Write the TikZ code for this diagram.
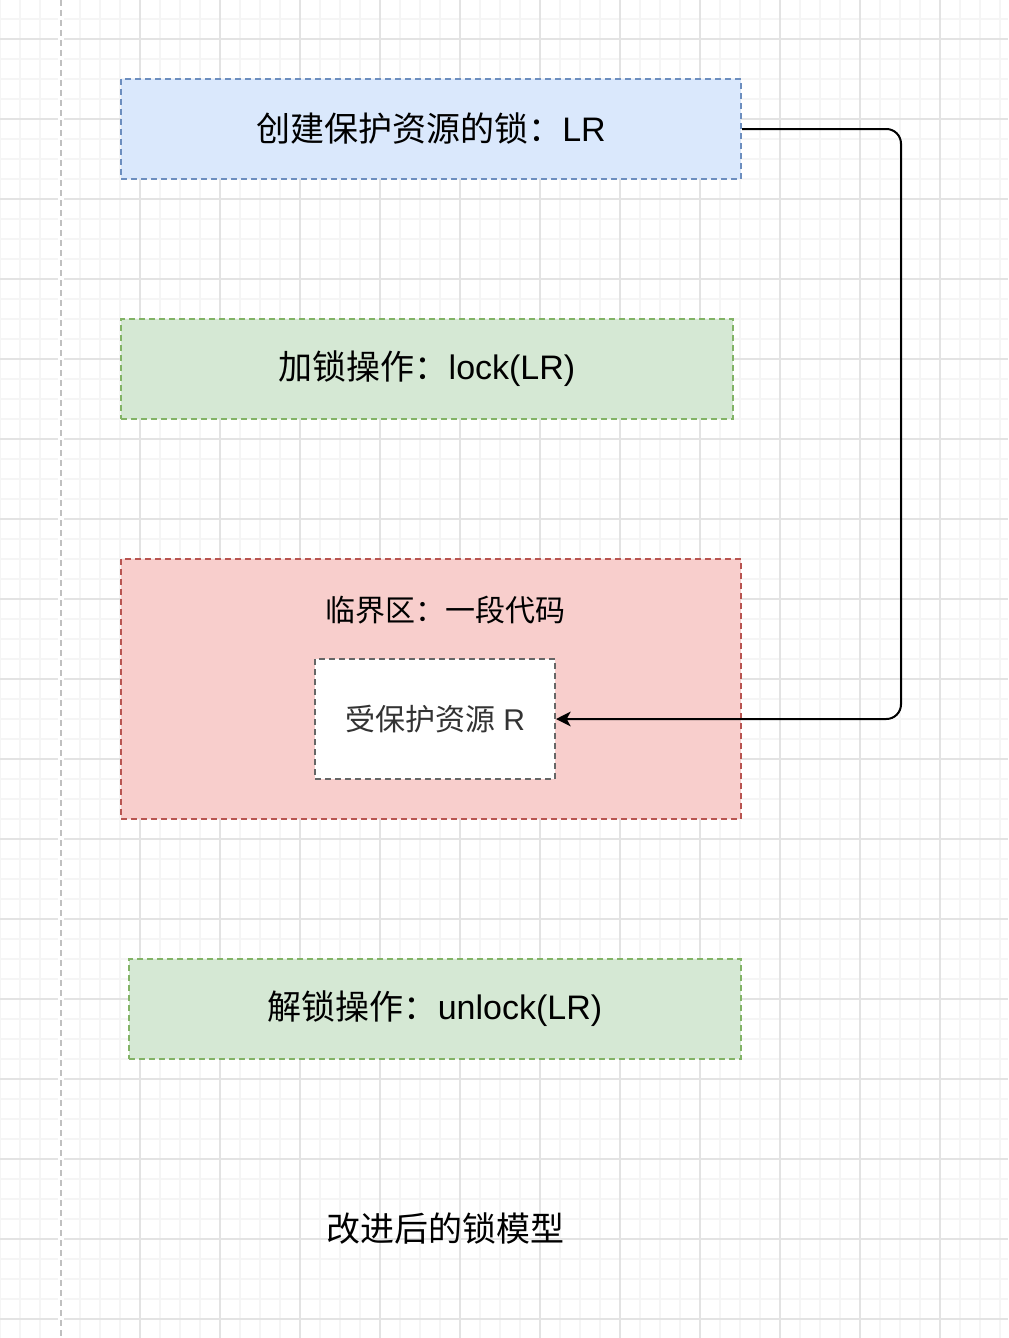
\documentclass[tikz,border=0pt]{standalone}
\usepackage{fontspec}
\setmainfont{Liberation Sans}
\newfontfamily\cjk{Noto Sans CJK SC}
\usetikzlibrary{arrows.meta}
\definecolor{gridminor}{HTML}{F5F5F5}
\definecolor{gridmajor}{HTML}{E3E3E3}
\definecolor{bluefill}{HTML}{DAE8FC}
\definecolor{blueline}{HTML}{6C8EBF}
\definecolor{greenfill}{HTML}{D5E8D4}
\definecolor{greenline}{HTML}{82B366}
\definecolor{redfill}{HTML}{F8CECC}
\definecolor{redline}{HTML}{B85450}
\definecolor{grayline}{HTML}{666666}
\definecolor{darktext}{HTML}{333333}
\definecolor{guide}{HTML}{C0C0C0}
\tikzset{
  box/.style={draw, line width=1.5pt, dash pattern=on 4.5pt off 3pt, inner sep=0pt, align=center},
  bigtext/.style={font=\fontsize{25.5pt}{30pt}\selectfont},
  midtext/.style={font=\fontsize{22.5pt}{27pt}\selectfont},
  arr/.style={line width=1.5pt, -{Stealth[length=11pt,width=11pt,inset=3pt]}, rounded corners=11pt}
}
\begin{document}
\begin{tikzpicture}[x=0.75pt,y=-0.75pt]
\useasboundingbox (0,0) rectangle (1008,1338);
\fill[white] (0,0) rectangle (1008,1338);
% grid
\foreach \x in {0,20,...,1000} \draw[gridminor,line width=1.5pt] (\x,0) -- (\x,1338);
\foreach \y in {19,39,...,1339} \draw[gridminor,line width=1.5pt] (0,\y) -- (1008,\y);
\foreach \x in {60,140,...,940} \draw[gridmajor,line width=1.5pt] (\x,0) -- (\x,1338);
\foreach \y in {39,119,...,1319} \draw[gridmajor,line width=1.5pt] (0,\y) -- (1008,\y);
\fill[white] (58,0) rectangle (64,1338);
\draw[guide,line width=1.5pt,dash pattern=on 4.5pt off 3pt] (61,0) -- (61,1338);
% boxes
\node[box, fill=bluefill, draw=blueline, minimum width=465pt, minimum height=75pt, bigtext] (create) at (431,129) {{\cjk 创建保护资源的锁：}LR};
\node[box, fill=greenfill, draw=greenline, minimum width=459pt, minimum height=75pt, bigtext] (lock) at (427,369) {{\cjk 加锁操作：}lock(LR)};
\node[box, fill=redfill, draw=redline, minimum width=465pt, minimum height=195pt] (crit) at (431,689) {};
\node[midtext] (critlabel) at (445,610) {\cjk 临界区：一段代码};
\node[box, fill=white, draw=grayline, minimum width=180pt, minimum height=90pt, midtext, text=darktext] (res) at (435,719) {{\cjk 受保护资源} R};
\node[box, fill=greenfill, draw=greenline, minimum width=459pt, minimum height=75pt, bigtext] (unlock) at (435,1009) {{\cjk 解锁操作：}unlock(LR)};
\node[bigtext] (title) at (445,1229) {\cjk 改进后的锁模型};
% connector
\coordinate (rc) at (901,129);
\draw[arr] (create.east) -- (rc) -- (rc |- res.east) -- (res.east);
\end{tikzpicture}
\end{document}
